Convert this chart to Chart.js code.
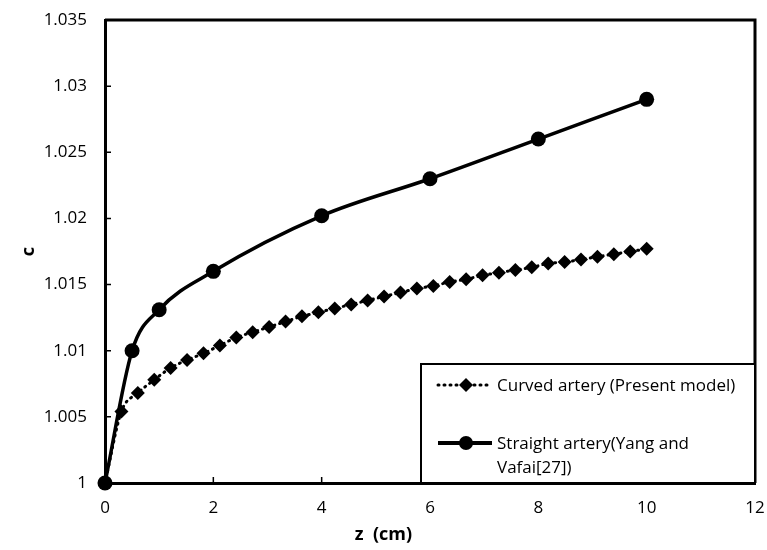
<!DOCTYPE html>
<html>
<head>
<meta charset="utf-8">
<script src="https://cdn.jsdelivr.net/npm/chart.js@4/dist/chart.umd.min.js"></script>
<style>
  html, body { margin: 0; padding: 0; background: #fff; }
  #wrap { width: 767px; height: 550px; }
</style>
</head>
<body>
<div id="wrap"><canvas id="chart" width="767" height="550"></canvas></div>
<script>
// Straight artery (Yang and Vafai[27])
const zStraight = [0, 0.5, 1, 2, 4, 6, 8, 10];
const cStraight = [1.0, 1.0100, 1.0131, 1.0160, 1.0202, 1.0230, 1.0260, 1.0290];

// Curved artery (present model)
const zCurved = [0, 0.303, 0.606, 0.909, 1.212, 1.515, 1.818, 2.121, 2.424, 2.727,
  3.030, 3.333, 3.636, 3.939, 4.242, 4.545, 4.848, 5.152, 5.455, 5.758,
  6.061, 6.364, 6.667, 6.970, 7.273, 7.576, 7.879, 8.182, 8.485, 8.788,
  9.091, 9.394, 9.697, 10.0];
const cCurved = [1.0, 1.0054, 1.0068, 1.0078, 1.0087, 1.0093, 1.0098, 1.0104, 1.0110, 1.0114,
  1.0118, 1.0122, 1.0126, 1.0129, 1.0132, 1.0135, 1.0138, 1.0141, 1.0144, 1.0147,
  1.0149, 1.0152, 1.0154, 1.0157, 1.0159, 1.0161, 1.0163, 1.0166, 1.0167, 1.0169,
  1.0171, 1.0173, 1.0175, 1.0177];

// Axis ticks
const xTicks = [0, 2, 4, 6, 8, 10, 12];
const yTicks = [1, 1.005, 1.01, 1.015, 1.02, 1.025, 1.03, 1.035];
const yTickLabels = ['1', '1.005', '1.01', '1.015', '1.02', '1.025', '1.03', '1.035'];

const legendLabels = [['Curved artery (Present model)'], ['Straight artery(Yang and', 'Vafai[27])']];
const xTitle = 'z  (cm)';
const yTitle = 'c';

Chart.defaults.font.family = "'Open Sans', sans-serif";
Chart.defaults.color = '#000';

/**
 * Frame, inner tick marks, x title and the boxed legend
 */
const framePlugin = {
    id: 'frame',
    afterDraw: function(chart) {
        const ctx = chart.ctx;
        const area = chart.chartArea;
        const xs = chart.scales.x;
        const ys = chart.scales.y;
        ctx.save();

        // top and right edges of the plot box
        ctx.strokeStyle = '#000';
        ctx.lineWidth = 3;
        ctx.beginPath();
        ctx.moveTo(area.left, area.top);
        ctx.lineTo(area.right, area.top);
        ctx.lineTo(area.right, area.bottom);
        ctx.stroke();

        // tick marks pointing inward
        ctx.lineWidth = 1.5;
        ctx.beginPath();
        xTicks.slice(1, -1).forEach(function(v) {
            const px = xs.getPixelForValue(v);
            ctx.moveTo(px, area.bottom);
            ctx.lineTo(px, area.bottom - 6);
        });
        yTicks.slice(1, -1).forEach(function(v) {
            const py = ys.getPixelForValue(v);
            ctx.moveTo(area.left, py);
            ctx.lineTo(area.left + 6, py);
        });
        ctx.stroke();

        // x axis title, centred on the whole figure
        ctx.font = 'bold 18px "Open Sans", sans-serif';
        ctx.fillStyle = '#000';
        ctx.textAlign = 'center';
        ctx.textBaseline = 'middle';
        ctx.fillText(xTitle, chart.width / 2, 535);

        // legend box
        const bx = area.right - 334;
        const by = area.bottom - 119;
        ctx.fillStyle = '#fff';
        ctx.fillRect(bx, by, 334, 119);
        ctx.strokeStyle = '#000';
        ctx.lineWidth = 2;
        ctx.strokeRect(bx, by, 334, 119);

        const sx0 = bx + 17, sx1 = bx + 71, sxm = bx + 45;
        const y1 = by + 21, y2 = by + 79;

        // curved artery sample
        ctx.lineWidth = 3;
        ctx.lineCap = 'round';
        ctx.setLineDash([1, 5]);
        ctx.beginPath();
        ctx.moveTo(sx0, y1);
        ctx.lineTo(sx1, y1);
        ctx.stroke();
        ctx.setLineDash([]);
        ctx.fillStyle = '#000';
        Chart.helpers.drawPoint(ctx, { pointStyle: 'rectRot', radius: 7, borderWidth: 0 }, sxm, y1);

        // straight artery sample
        ctx.lineWidth = 4;
        ctx.lineCap = 'butt';
        ctx.beginPath();
        ctx.moveTo(sx0, y2);
        ctx.lineTo(sx1, y2);
        ctx.stroke();
        ctx.beginPath();
        ctx.arc(sxm, y2, 7, 0, Math.PI * 2);
        ctx.fill();

        ctx.font = '17px "Open Sans", sans-serif';
        ctx.textAlign = 'left';
        ctx.fillText(legendLabels[0][0], bx + 76, y1 + 1);
        ctx.fillText(legendLabels[1][0], bx + 76, y2 + 1);
        ctx.fillText(legendLabels[1][1], bx + 76, y2 + 25);

        ctx.restore();
    }
};

new Chart(document.getElementById('chart'), {
    type: 'line',
    data: {
        datasets: [{
            label: 'Straight artery(Yang and Vafai[27])',
            data: zStraight.map(function(z, i) { return { x: z, y: cStraight[i] }; }),
            borderColor: '#000',
            backgroundColor: '#000',
            borderWidth: 3.5,
            cubicInterpolationMode: 'monotone',
            pointStyle: 'circle',
            pointRadius: 7.5,
            pointBorderWidth: 0,
            clip: false,
            fill: false
        }, {
            label: 'Curved artery (Present model)',
            data: zCurved.map(function(z, i) { return { x: z, y: cCurved[i] }; }),
            borderColor: '#000',
            backgroundColor: '#000',
            borderWidth: 3,
            borderDash: [1, 5],
            borderCapStyle: 'round',
            cubicInterpolationMode: 'monotone',
            pointStyle: 'rectRot',
            pointRadius: 7,
            pointBorderWidth: 0,
            clip: false,
            fill: false
        }]
    },
    options: {
        responsive: false,
        animation: false,
        layout: { padding: { left: 0, right: 12, top: 20, bottom: 0 } },
        plugins: {
            legend: { display: false },
            tooltip: { enabled: false }
        },
        scales: {
            x: {
                type: 'linear',
                min: 0,
                max: 12,
                afterBuildTicks: function(s) { s.ticks = xTicks.map(function(v) { return { value: v }; }); },
                afterFit: function(s) { s.height = 67; s.paddingLeft = 0; s.paddingRight = 0; },
                grid: { display: false },
                border: { display: true, color: '#000', width: 3 },
                ticks: { padding: 7, font: { size: 17 }, color: '#000' }
            },
            y: {
                type: 'linear',
                min: 1,
                max: 1.035,
                afterBuildTicks: function(s) { s.ticks = yTicks.map(function(v) { return { value: v }; }); },
                afterFit: function(s) { s.width = 105; s.paddingTop = 0; s.paddingBottom = 0; },
                grid: { display: false },
                border: { display: true, color: '#000', width: 3 },
                title: { display: true, text: yTitle, font: { size: 18, weight: 'bold' }, padding: { top: 18, bottom: 0 } },
                ticks: {
                    padding: 10,
                    font: { size: 17 },
                    color: '#000',
                    callback: function(v, i) { return yTickLabels[i]; }
                }
            }
        }
    },
    plugins: [framePlugin]
});
</script>
</body>
</html>
